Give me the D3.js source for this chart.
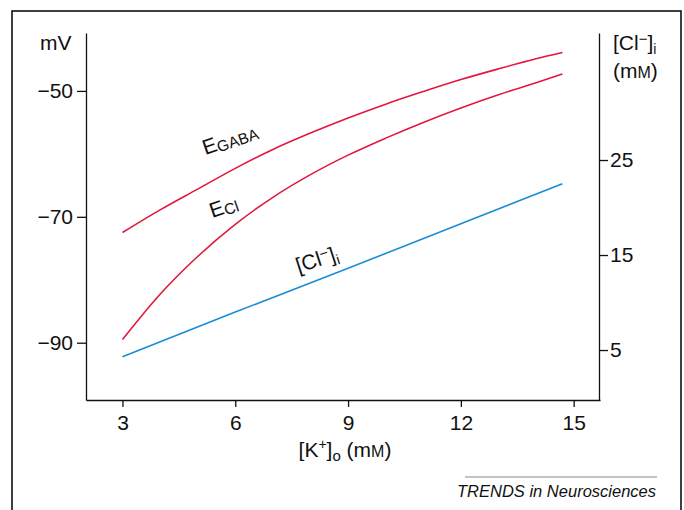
<!DOCTYPE html>
<html>
<head>
<meta charset="utf-8">
<script src="https://cdn.jsdelivr.net/npm/d3@7"></script>
<style>
  body { margin: 0; background: #fff; }
  svg text { font-family: "Liberation Sans", Arial, sans-serif; fill: #111; }
</style>
</head>
<body>
<svg id="chart" width="684" height="510"></svg>
<script>
// [K+]o in mM
var kOut = [3, 4, 5, 6, 7, 8, 9, 10, 11, 12, 13, 14, 14.7];
// E_GABA, mV (left axis)
var eGABA = [-72.5, -68.9, -65.6, -62.3, -59.3, -56.7, -54.3, -52.1, -50.1, -48.2, -46.5, -44.9, -43.9];
// E_Cl, mV (left axis)
var eCl = [-89.5, -82.3, -76.3, -71.2, -66.9, -63.3, -60.2, -57.5, -55.0, -52.7, -50.6, -48.7, -47.3];
// [Cl-]i, mM (right axis) - read at fewer points, it is a straight line
var kCl = [3, 6, 9, 12, 14.7];
var clIn = [4.3, 9.0, 13.6, 18.3, 22.5];

var xTicks = [3, 6, 9, 12, 15];
var mvTicks = [-50, -70, -90];
var mmTicks = [25, 15, 5];

var svg = d3.select("#chart");
svg.append("rect").attr("width", 684).attr("height", 510).attr("fill", "#fff");

// outer frame, open at the bottom
svg.append("path")
    .attr("d", "M12,510V11H681V510")
    .attr("fill", "none").attr("stroke", "#000").attr("stroke-width", 1.5);

var x = d3.scaleLinear().domain([2.03, 15.7]).range([86, 600]);
var yL = d3.scaleLinear().domain([-99.1, -40.8]).range([400, 33]);
var yR = d3.scaleLinear().domain([-0.26, 38.37]).range([400, 33]);

function minus(d) { return d < 0 ? "\u2212" + Math.abs(d) : d; }

function styleAxis(g) {
  g.selectAll("path, line").attr("stroke", "#111").attr("stroke-width", 1.3);
  g.selectAll("text").attr("font-size", 21).attr("fill", "#111")
    .style("font-family", "'Liberation Sans', Arial, sans-serif");
}

svg.append("g")
    .attr("transform", "translate(86,0)")
    .call(d3.axisLeft(yL).tickValues(mvTicks).tickFormat(minus)
      .tickSize(9).tickSizeOuter(0).tickPadding(4))
    .call(styleAxis);

svg.append("g")
    .attr("transform", "translate(599,0)")
    .call(d3.axisRight(yR).tickValues(mmTicks)
      .tickSize(9).tickSizeOuter(0).tickPadding(2))
    .call(styleAxis);

svg.append("g")
    .attr("transform", "translate(0,400)")
    .call(d3.axisBottom(x).tickValues(xTicks)
      .tickSize(7).tickSizeOuter(0).tickPadding(8))
    .call(styleAxis);

// curves
var lineL = d3.line().x(function(d) { return x(d[0]); }).y(function(d) { return yL(d[1]); })
    .curve(d3.curveMonotoneX);
var lineR = d3.line().x(function(d) { return x(d[0]); }).y(function(d) { return yR(d[1]); });

var red = "#e3173e", blue = "#1a8cd6";

svg.append("path").datum(d3.zip(kOut, eGABA))
    .attr("d", lineL).attr("fill", "none").attr("stroke", red).attr("stroke-width", 1.6);
svg.append("path").datum(d3.zip(kOut, eCl))
    .attr("d", lineL).attr("fill", "none").attr("stroke", red).attr("stroke-width", 1.6);
svg.append("path").datum(d3.zip(kCl, clIn))
    .attr("d", lineR).attr("fill", "none").attr("stroke", blue).attr("stroke-width", 1.6);

// rich text helper: parts = [text, fontSize, dy]
function richText(px, py, parts, anchor, rot, style) {
  var t = svg.append("text")
      .attr("transform", "translate(" + px + "," + py + ")" + (rot ? " rotate(" + rot + ")" : ""))
      .attr("text-anchor", anchor || "start");
  if (style) t.attr("font-style", style);
  parts.forEach(function(p) {
    t.append("tspan").text(p[0]).attr("font-size", p[1]).attr("dy", p[2] || 0);
  });
  return t;
}

// curve labels
richText(x(5.2), yL(-60.2), [["E", 21], ["GABA", 15.5, 2]], "start", -19);
richText(x(5.39), yL(-70.2), [["E", 21], ["Cl", 15.5, 2]], "start", -19);
richText(x(7.68), yR(13.1), [["[Cl", 21], ["\u2212", 15, -6], ["]", 21, 6], ["i", 14, 4]], "start", -18);

// axis titles
richText(40, 50, [["mV", 21]]);
richText(613, 50, [["[Cl", 21], ["\u2212", 15, -6], ["]", 21, 6], ["i", 14, 4]]);
richText(613, 78, [["(m", 21], ["M", 16], [")", 21]]);
richText(345, 457, [["[K", 21], ["+", 14, -8], ["]", 21, 8], ["o", 15, 4], [" (m", 21, -4], ["M", 16], [")", 21]], "middle");

// journal credit
svg.append("line").attr("x1", 465).attr("x2", 657).attr("y1", 477).attr("y2", 477)
    .attr("stroke", "#888").attr("stroke-width", 1.2);
richText(656, 497, [["TRENDS in Neurosciences", 16.5]], "end", 0, "italic");
</script>
</body>
</html>
